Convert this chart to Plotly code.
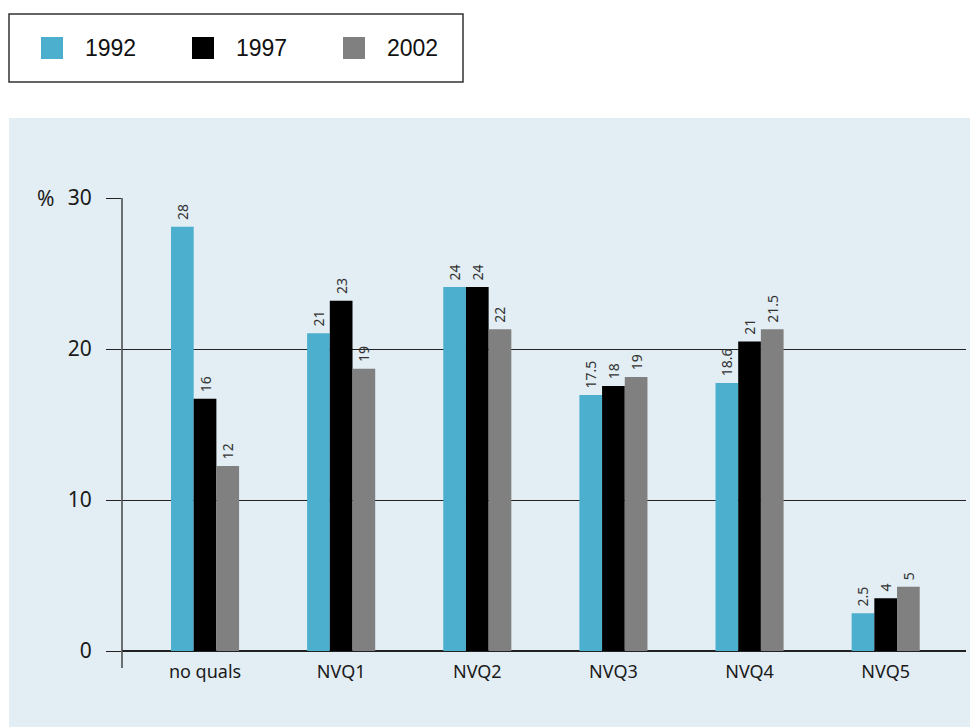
import plotly.graph_objects as go

categories = ["no quals", "NVQ1", "NVQ2", "NVQ3", "NVQ4", "NVQ5"]
years = ["1992", "1997", "2002"]

# bar heights as drawn
values_1992 = [28.1, 21.05, 24.1, 16.95, 17.75, 2.5]
values_1997 = [16.7, 23.2, 24.1, 17.55, 20.5, 3.5]
values_2002 = [12.25, 18.7, 21.3, 18.15, 21.3, 4.25]

# printed labels above bars
labels_1992 = ["28", "21", "24", "17.5", "18.6", "2.5"]
labels_1997 = ["16", "23", "24", "18", "21", "4"]
labels_2002 = ["12", "19", "22", "19", "21.5", "5"]

colors = ["#4bafcd", "#000000", "#808080"]

# page has an 8px body margin, so work in page pixels and shift
OFF = 8
L, R, T, B = 122 - OFF, 966 - OFF, 198 - OFF, 651 - OFF
def px_x(p):
    return (p - OFF - L) / (R - L)
def px_y(p):
    return (B - (p - OFF)) / (B - T)

fig = go.Figure()
for name, vals, labs, col in zip(years, [values_1992, values_1997, values_2002],
                                 [labels_1992, labels_1997, labels_2002], colors):
    fig.add_trace(go.Bar(
        x=categories, y=vals, name=name, marker_color=col, marker_line_width=0,
        text=labs, texttemplate="\u00a0%{text}", textposition="outside", textangle=-90,
        constraintext="none",
        textfont=dict(family="Noto Sans", size=14, color="#333333"),
        cliponaxis=False, showlegend=False,
    ))

shapes = [
    # light blue panel
    dict(type="rect", xref="paper", yref="paper", layer="below",
         x0=px_x(9), x1=px_x(990), y0=px_y(740), y1=px_y(118),
         fillcolor="#e2edf4", line_width=0),
    # y axis line extending below zero
    dict(type="line", xref="paper", yref="paper",
         x0=0, x1=0, y0=px_y(668), y1=1, line=dict(color="#444444", width=1.5)),
    # legend box
    dict(type="rect", xref="paper", yref="paper",
         x0=px_x(9), x1=px_x(463), y0=px_y(82), y1=px_y(14),
         fillcolor="white", line=dict(color="#333333", width=1.5)),
]
annotations = [
    dict(text="%", xref="paper", yref="paper", x=px_x(45), y=1, showarrow=False,
         xanchor="center", yanchor="middle", font=dict(family="Noto Sans", size=21, color="#1a1a1a")),
]
sw_x = [41, 192, 343]
for sx, name, col in zip(sw_x, years, colors):
    shapes.append(dict(type="rect", xref="paper", yref="paper",
                       x0=px_x(sx), x1=px_x(sx + 22), y0=px_y(59), y1=px_y(37),
                       fillcolor=col, line_width=0))
    annotations.append(dict(text=name, xref="paper", yref="paper", x=px_x(sx + 42), y=px_y(48),
                            showarrow=False, xanchor="left", yanchor="middle",
                            font=dict(family="Liberation Sans, Arial", size=23, color="#111111")))

fig.update_layout(
    width=978, height=727,
    margin=dict(l=L, r=978 - R, t=T, b=727 - B),
    paper_bgcolor="white", plot_bgcolor="rgba(0,0,0,0)",
    barmode="group", bargap=0.5, bargroupgap=0,
    shapes=shapes, annotations=annotations,
    showlegend=False,
)
fig.update_xaxes(
    range=[-0.61, 5.59], showgrid=False, showline=False, zeroline=False, ticks="",
    ticklabelstandoff=8,
    tickfont=dict(family="Noto Sans", size=18, color="#1a1a1a"),
)
fig.update_yaxes(
    range=[0, 30], tickvals=[0, 10, 20, 30], showgrid=True, gridcolor="#222222", gridwidth=1,
    zeroline=True, zerolinecolor="#222222", zerolinewidth=1.5, showline=False,
    ticks="outside", ticklen=15, tickcolor="#222222", tickwidth=1,
    ticklabelstandoff=10,
    tickfont=dict(family="Noto Sans", size=21, color="#1a1a1a"),
)

fig.write_html("out.html")
